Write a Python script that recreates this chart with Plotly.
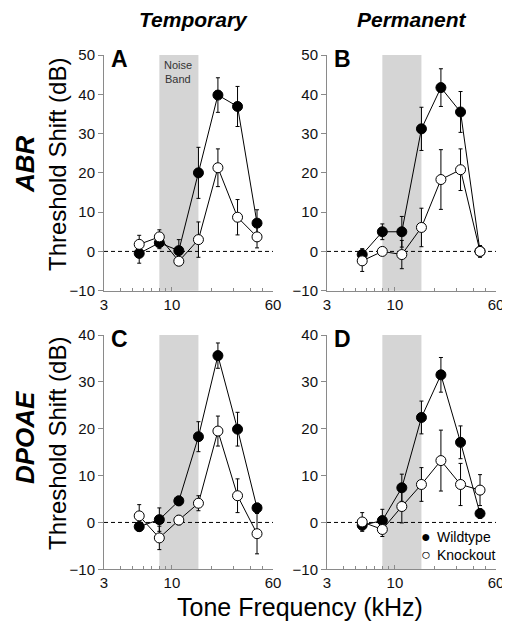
import math
import plotly.graph_objects as go

# page body has an 8px margin; the figure starts 8px in from the window edge
OFF = 8
W, H = 502, 625

freqs = [5.6, 8, 11.3, 16, 22.6, 32, 45.2]

abr_temp_wt = [-0.5, 2.2, 0.2, 20.0, 39.8, 36.9, 7.2]
abr_temp_wt_err = [2.5, 1.5, 2.8, 6.5, 4.4, 5.1, 3.4]
abr_temp_ko = [1.8, 3.7, -2.5, 3.0, 21.3, 8.7, 3.7]
abr_temp_ko_err = [2.3, 1.8, 1.0, 4.5, 4.8, 4.5, 2.8]

abr_perm_wt = [-0.8, 5.0, 5.0, 31.2, 41.7, 35.5, 0.0]
abr_perm_wt_err = [1.5, 2.0, 3.9, 5.5, 4.8, 5.2, 1.5]
abr_perm_ko = [-2.4, 0.0, -0.8, 6.1, 18.3, 20.8, 0.0]
abr_perm_ko_err = [2.7, 0.8, 3.6, 4.9, 7.6, 5.3, 1.0]

dp_temp_wt = [-0.9, 0.6, 4.6, 18.3, 35.6, 19.9, 3.1]
dp_temp_wt_err = [1.0, 2.5, 1.0, 3.2, 2.7, 3.6, 1.0]
dp_temp_ko = [1.4, -3.3, 0.5, 4.1, 19.5, 5.7, -2.4]
dp_temp_ko_err = [2.4, 2.5, 1.0, 1.6, 3.2, 3.6, 4.3]

dp_perm_wt = [-0.6, 0.4, 7.4, 22.4, 31.5, 17.1, 1.9]
dp_perm_wt_err = [1.0, 2.4, 2.9, 3.5, 3.7, 3.5, 1.0]
dp_perm_ko = [0.1, -1.5, 3.4, 8.1, 13.2, 8.1, 6.9]
dp_perm_ko_err = [2.0, 1.5, 3.5, 3.6, 6.5, 4.5, 3.3]

noise_band = [8, 16]
x_ticks = [3, 10, 60]
x_minor = [4, 5, 6, 7, 8, 9, 20, 30, 40, 50]
abr_ticks = [-10, 0, 10, 20, 30, 40, 50]
dp_ticks = [-10, 0, 10, 20, 30, 40]

FONT = "Liberation Sans, Arial, Helvetica, sans-serif"
AXC = "#8a8a8a"


def px(x):
    return (x - OFF) / W


def py(y):
    return 1 - (y - OFF) / H


fig = go.Figure()

panels = [
    ("", (104, 273), (55, 290.7), abr_temp_wt, abr_temp_wt_err, abr_temp_ko, abr_temp_ko_err, [-10, 50], abr_ticks, "A"),
    ("2", (327, 496), (55, 290.7), abr_perm_wt, abr_perm_wt_err, abr_perm_ko, abr_perm_ko_err, [-10, 50], abr_ticks, "B"),
    ("3", (104, 273), (335, 569.3), dp_temp_wt, dp_temp_wt_err, dp_temp_ko, dp_temp_ko_err, [-10, 40], dp_ticks, "C"),
    ("4", (327, 496), (335, 569.3), dp_perm_wt, dp_perm_wt_err, dp_perm_ko, dp_perm_ko_err, [-10, 40], dp_ticks, "D"),
]

annotations = []
shapes = []

for suf, (x0, x1), (yt, yb), wt, wte, ko, koe, yr, yt_vals, letter in panels:
    xa = "x" + suf
    ya = "y" + suf
    for vals, errs, fill, name in ((wt, wte, "black", "Wildtype"), (ko, koe, "white", "Knockout")):
        fig.add_trace(go.Scatter(
            x=freqs, y=vals, xaxis=xa, yaxis=ya, mode="lines+markers", name=name,
            showlegend=False, cliponaxis=False,
            line=dict(color="black", width=1),
            marker=dict(size=10, color=fill, line=dict(color="black", width=1)),
            error_y=dict(type="data", array=errs, visible=True, color="black", thickness=1, width=2),
        ))
    xkey = "xaxis" + suf
    ykey = "yaxis" + suf
    fig.update_layout({
        xkey: dict(
            type="log", domain=[px(x0), px(x1)], range=[math.log10(3), math.log10(60)],
            anchor=ya, tickvals=x_ticks, ticktext=[str(v) for v in x_ticks], automargin=False,
            ticks="inside", ticklen=4, tickcolor=AXC, showline=True, linecolor=AXC, linewidth=1,
            showgrid=False, zeroline=False, tickfont=dict(family=FONT, size=15, color="#111"),
            ticklabeloverflow="allow",
            minor=dict(tickvals=x_minor, ticks="inside", ticklen=3, tickcolor=AXC, showgrid=False),
        ),
        ykey: dict(
            domain=[py(yb), py(yt)], range=yr, anchor=xa, tickvals=yt_vals, automargin=False,
            ticks="outside", ticklen=5, tickcolor=AXC, showline=True, linecolor=AXC, linewidth=1,
            showgrid=False, zeroline=False, tickfont=dict(family=FONT, size=15, color="#111"),
        ),
    })
    shapes.append(dict(type="rect", xref=xa, yref=ya + " domain", x0=noise_band[0], x1=noise_band[1],
                       y0=0, y1=1, fillcolor="#d5d5d5", line=dict(width=0), layer="below"))
    shapes.append(dict(type="line", xref=xa + " domain", yref=ya, x0=0, x1=1, y0=0, y1=0,
                       line=dict(color="black", width=1, dash="4px,3px"), layer="below"))
    annotations.append(dict(text="<b>%s</b>" % letter, xref="paper", yref="paper",
                            x=px(x0 + 15), y=py(yt + 4), xanchor="center", yanchor="middle",
                            showarrow=False, font=dict(family=FONT, size=23, color="black")))


def label(text, x, y, size, angle=0, anchor="center", color="black"):
    annotations.append(dict(text=text, xref="paper", yref="paper", x=px(x), y=py(y),
                            xanchor=anchor, yanchor="middle", showarrow=False, textangle=angle,
                            font=dict(family=FONT, size=size, color=color)))


label("<b><i>Temporary</i></b>", 193, 20, 21)
label("<b><i>Permanent</i></b>", 412, 20, 21)
label("<b><i>ABR</i></b>", 25, 164, 26, angle=-90)
label("<b><i>DPOAE</i></b>", 25, 438, 26, angle=-90)
label("Threshold Shift (dB)", 57, 165, 24, angle=-90)
label("Threshold Shift (dB)", 57, 444, 24, angle=-90)
label("Tone Frequency (kHz)", 300, 607, 25)
label("Noise", 178, 65, 11, color="#333")
label("Band", 178, 79, 11, color="#333")
label("●", 426, 536.5, 16)
label("○", 426, 554.5, 16)
label("Wildtype", 435, 536.5, 14, anchor="left")
label("Knockout", 435, 554.5, 14, anchor="left")

fig.update_layout(
    template="none",
    width=W, height=H, margin=dict(l=0, r=0, t=0, b=0, pad=0, autoexpand=False),
    paper_bgcolor="white", plot_bgcolor="white",
    shapes=shapes, annotations=annotations, showlegend=False,
    font=dict(family=FONT, color="black"),
)

fig.write_html("out.html")
